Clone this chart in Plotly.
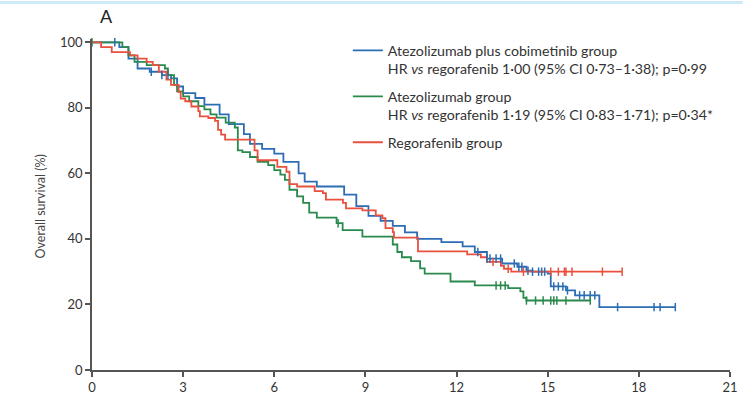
import plotly.graph_objects as go
import numpy as np

# ---------------- data (months, overall survival %) ----------------
blue_t = [0, 0.9, 1.2, 1.5, 1.9, 2.3, 2.6, 2.8, 3.0, 3.4, 3.7, 4.2, 4.5, 5.0, 5.2, 5.6, 6.0, 6.3, 6.8, 7.0, 7.4,
          8.3, 8.7, 9.1, 9.5, 9.9, 10.3, 10.7, 11.5, 12.2, 12.6, 13.0, 13.5, 14.0, 14.3, 14.5, 15.0, 15.1, 15.6, 15.9, 16.7, 19.2]
blue_s = [100, 98.5, 95, 92, 91, 90, 89, 86.5, 84.5, 83, 81, 78, 75, 72, 69, 67.5, 66, 63.5, 60, 57.5, 56,
          53.5, 50, 47, 45.5, 44, 42, 40, 39, 37.7, 36, 34, 32.5, 31.5, 30.3, 30, 29.4, 25.5, 24.3, 22.8, 19.2, 19.2]
blue_cens = [0.75, 1.95, 2.3, 2.5, 12.7, 13.0, 13.1, 13.3, 13.45, 13.9, 14.05, 14.15, 14.35, 14.5, 14.7, 14.8, 14.9,
             15.2, 15.35, 15.5, 15.65, 16.05, 16.2, 16.4, 16.55, 17.3, 18.5, 18.7, 19.2]

green_t = [0, 1.0, 1.2, 1.4, 1.8, 2.4, 2.5, 2.7, 2.8, 3.0, 3.2, 3.5, 3.7, 3.9, 4.1, 4.4, 4.7, 4.8, 4.95, 5.2, 5.45,
           5.8, 6.0, 6.2, 6.35, 6.5, 6.75, 6.95, 7.15, 7.4, 8.05, 8.25, 8.9, 9.9, 10.05, 10.2, 10.5, 10.8, 10.95,
           11.8, 12.6, 13.7, 14.1, 14.2, 14.3, 16.4]
green_s = [100, 98.5, 96, 94, 93, 92, 90, 87, 85, 83.5, 82, 80.5, 79.5, 78, 77, 75.5, 74, 67, 66.5, 65, 63.5,
           62.5, 61, 59.6, 58, 55, 53, 51, 48, 46.5, 44.8, 42.7, 40.7, 38.3, 36, 34.4, 33.2, 31, 29.4,
           27, 25.8, 25, 24, 22, 21.2, 21.2]
green_cens = [0.0, 8.1, 13.3, 13.45, 13.6, 14.3, 14.6, 14.85, 15.1, 15.2, 15.3, 15.6, 16.4]

red_t = [0, 0.3, 0.65, 1.25, 1.5, 1.8, 2.0, 2.2, 2.45, 2.6, 2.85, 2.92, 3.07, 3.27, 3.5, 3.55, 3.83, 4.05, 4.15, 4.25,
         4.38, 5.35, 5.45, 6.1, 6.4, 6.5, 6.75, 7.33, 7.6, 7.7, 8.26, 8.36, 8.9, 9.34, 9.56, 9.66, 9.9, 9.94,
         10.73, 12.35, 12.8, 13.0, 13.46, 13.56, 13.8, 17.45]
red_s = [100, 98.5, 97, 96, 95, 94, 93, 91, 88.6, 87, 84.8, 82.8, 82, 80.4, 79, 77.4, 76.9, 76, 73.3, 71.8,
         70.3, 67, 64, 62, 60.5, 56.7, 56, 54.6, 54, 52, 51, 49.3, 48.7, 47.2, 46.3, 43.3, 42.1, 40.4,
         36.2, 35.3, 34.4, 33, 31.8, 30.9, 30, 30]
red_cens = [13.2, 13.7, 14.2, 15.1, 15.35, 15.55, 15.6, 15.8, 16.8, 17.45]

names = [
    "Atezolizumab plus cobimetinib group<br>HR <i>vs</i> regorafenib 1·00 (95% CI 0·73–1·38); p=0·99",
    "Atezolizumab group<br>HR <i>vs</i> regorafenib 1·19 (95% CI 0·83–1·71); p=0·34*",
    "Regorafenib group",
]
colors = ["#2c6db4", "#2a8a4e", "#e9503e"]
x_ticks = [0, 3, 6, 9, 12, 15, 18, 21]
y_ticks = [0, 20, 40, 60, 80, 100]

series = [(blue_t, blue_s, blue_cens), (green_t, green_s, green_cens), (red_t, red_s, red_cens)]


def surv_at(t_list, s_list, t):
    idx = np.searchsorted(np.array(t_list), t, side="right") - 1
    return s_list[max(idx, 0)]


FONT = "Lato"
fig = go.Figure()
for (t, s, c), name, col in zip(series, names, colors):
    fig.add_trace(go.Scatter(x=t, y=s, mode="lines", line=dict(color=col, width=1.8, shape="hv"),
                             name=name, legendgroup=name))
for (t, s, c), name, col in zip(series, names, colors):
    fig.add_trace(go.Scatter(x=c, y=[surv_at(t, s, ci) for ci in c], mode="markers",
                             marker=dict(symbol="line-ns-open", size=6, color=col, line=dict(color=col, width=1.5)),
                             showlegend=False, legendgroup=name, cliponaxis=False, hoverinfo="skip"))

axis_common = dict(showgrid=False, zeroline=False, showline=True, linecolor="#555555", linewidth=1.5,
                   ticks="outside", ticklen=5, tickwidth=1.5, tickcolor="#555555",
                   tickfont=dict(family=FONT, size=13, color="#333333"))
fig.update_xaxes(range=[0, 21], tickvals=x_ticks, ticktext=[str(v) for v in x_ticks], **axis_common)
fig.update_yaxes(range=[0, 101], tickvals=y_ticks, ticktext=[str(v) for v in y_ticks], **axis_common)

fig.add_annotation(text="Overall survival (%)", textangle=-90, xref="paper", yref="y", x=-0.081, y=50,
                   xanchor="center", yanchor="middle",
                   showarrow=False, font=dict(family=FONT, size=12.5, color="#444444"))
fig.add_annotation(text="A", xref="paper", yref="paper", x=0.01, y=1.07, xanchor="left", yanchor="middle",
                   showarrow=False, font=dict(family=FONT, size=18, color="#222222"))
fig.add_shape(type="line", xref="paper", yref="paper", x0=-0.15, x1=1.02, y0=1.11, y1=1.11,
              line=dict(color="#cdeaf6", width=3))

fig.update_layout(
    width=748, height=405,
    margin=dict(l=92, r=10, t=39, b=26),
    paper_bgcolor="white", plot_bgcolor="white",
    font=dict(family=FONT, size=13, color="#333333"),
    showlegend=True,
    legend=dict(x=0.401, y=1.013, xanchor="left", yanchor="top", valign="top",
                bgcolor="rgba(0,0,0,0)", tracegroupgap=6, itemwidth=30,
                font=dict(family=FONT, size=14.2, color="#333333")),
)

fig.write_html("out.html")
